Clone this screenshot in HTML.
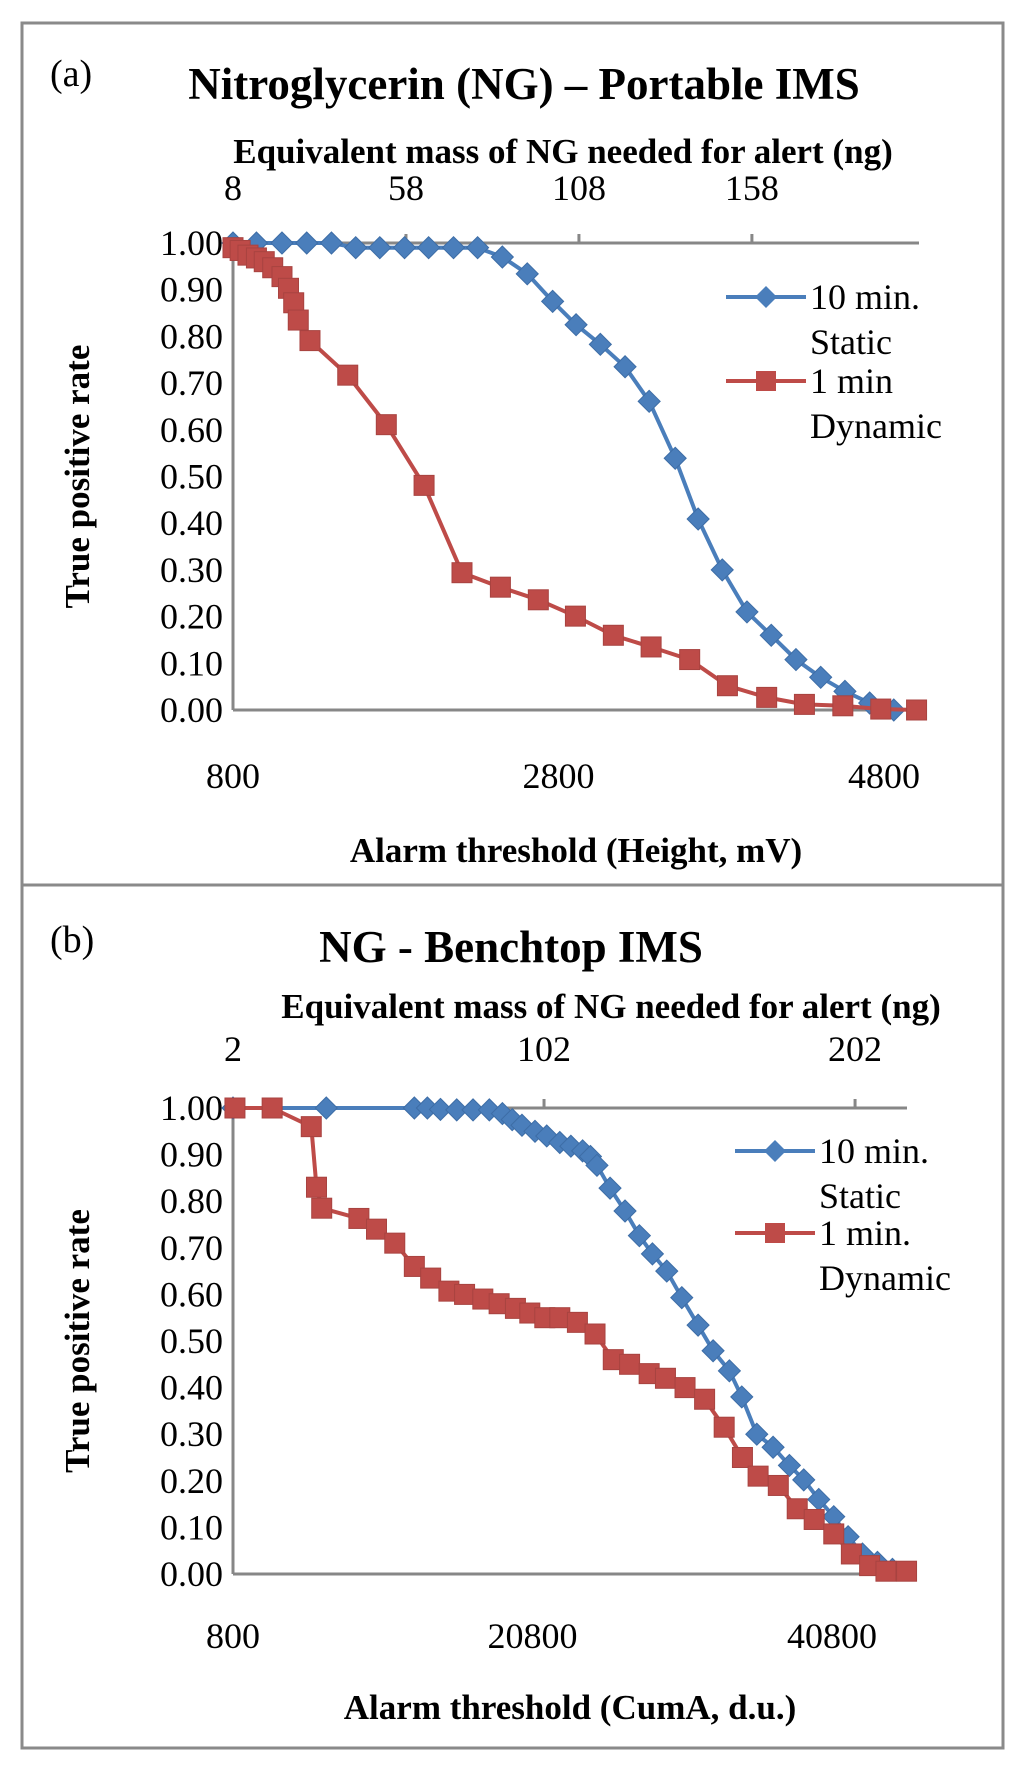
<!DOCTYPE html>
<html><head><meta charset="utf-8"><style>
html,body{margin:0;padding:0;background:#fff;}
svg{display:block;font-family:"Liberation Serif","Times New Roman",serif;}
</style></head><body>
<svg id="fig" width="1024" height="1769" viewBox="0 0 1024 1769" xmlns="http://www.w3.org/2000/svg">
<rect x="22" y="23" width="981" height="1725" fill="#fff" stroke="#8a8a8a" stroke-width="3"/>
<line x1="22" y1="885" x2="1003" y2="885" stroke="#8a8a8a" stroke-width="3"/>
<g id="pa"></g>
<g id="pb"></g>
</svg>
<script>
// Panel (a) data
const aBlueX=[800,944,1101,1253,1405,1554,1702,1854,2002,2155,2303,2455,2608,2764,2908,3057,3209,3357,3517,3658,3806,3958,4107,4259,4411,4560,4712,4860];
const aBlueY=[1.0,1.0,1.0,1.0,1.0,0.99,0.99,0.99,0.99,0.99,0.99,0.97,0.934,0.875,0.825,0.783,0.735,0.661,0.539,0.409,0.30,0.21,0.16,0.108,0.07,0.04,0.015,0.0];
const aRedX=[800,844,892,944,992,1044,1101,1141,1173,1201,1273,1505,1742,1974,2207,2443,2676,2904,3137,3369,3606,3838,4079,4311,4547,4780,5000];
const aRedY=[0.99,0.984,0.974,0.968,0.96,0.947,0.928,0.903,0.872,0.835,0.791,0.717,0.611,0.481,0.294,0.263,0.236,0.201,0.16,0.135,0.108,0.052,0.027,0.012,0.009,0.002,0.0];
const aBottomTicks=[800,2800,4800];
const aTopTicks=[8,58,108,158];
const aYTicks=[0,0.1,0.2,0.3,0.4,0.5,0.6,0.7,0.8,0.9,1.0];
// Panel (b) data
const bBlueX=[800,7029,12910,13781,14652,15741,16830,17919,18790,19444,20097,20968,21752,22624,23364,24148,24671,25106,25978,26980,27938,28809,29767,30769,31858,32860,33949,34777,35779,36868,37957,38915,39917,40919,41877,42835,43837,44839];
const bBlueY=[1,1,1,1,0.997,0.996,0.996,0.996,0.988,0.975,0.963,0.95,0.94,0.926,0.918,0.908,0.896,0.877,0.828,0.779,0.726,0.687,0.65,0.593,0.534,0.479,0.436,0.38,0.30,0.272,0.233,0.202,0.16,0.123,0.08,0.043,0.025,0.01];
const bRedX=[930,3414,6027,6376,6724,9207,10383,11603,12910,14000,15218,16264,17483,18572,19661,20620,21622,22624,23800,24976,26195,27284,28591,29680,30987,32294,33601,34821,35866,37216,38479,39612,40919,42095,43314,44404,45780];
const bRedY=[1,1,0.96,0.83,0.785,0.763,0.74,0.71,0.66,0.635,0.607,0.6,0.59,0.58,0.57,0.56,0.55,0.55,0.54,0.515,0.46,0.45,0.43,0.42,0.40,0.375,0.315,0.25,0.21,0.19,0.14,0.117,0.086,0.043,0.018,0.006,0.006];
const bBottomTicks=[800,20800,40800];
const bTopTicks=[2,102,202];
const bYTicks=[0,0.1,0.2,0.3,0.4,0.5,0.6,0.7,0.8,0.9,1.0];

const NS="http://www.w3.org/2000/svg";
const BLUE="#4a7ebb", RED="#be4b48", AX="#878787";
function mk(parent,tag,attrs,text){const e=document.createElementNS(NS,tag);for(const k in attrs)e.setAttribute(k,attrs[k]);if(text!==undefined)e.textContent=text;parent.appendChild(e);return e;}

function panel(g,cfg){
  const sx=v=>cfg.x0+(v-cfg.xmin)/(cfg.xmax-cfg.xmin)*(cfg.x1-cfg.x0);
  const sxt=v=>cfg.x0+(v-cfg.tmin)/(cfg.tmax-cfg.tmin)*(cfg.x1-cfg.x0);
  const sy=v=>cfg.y0+(v)*(cfg.y1-cfg.y0);
  let t;
  t=mk(g,'text',{x:cfg.lx,y:cfg.ly,'font-size':38},cfg.label);
  
  
  t=mk(g,'text',{x:cfg.tx,y:cfg.ty,'font-size':45,'font-weight':'bold','text-anchor':'middle'},cfg.title);
  
  
  t=mk(g,'text',{x:cfg.ttx,y:cfg.tty,'font-size':35,'font-weight':'bold','text-anchor':'middle'},'Equivalent mass of NG needed for alert (ng)');
  
  
  t=mk(g,'text',{x:cfg.btx,y:cfg.bty,'font-size':35,'font-weight':'bold','text-anchor':'middle'},cfg.xtitle);
  
  
  const ymid=(cfg.y0+cfg.y1)/2;
  t=mk(g,'text',{x:0,y:0,'font-size':35,'font-weight':'bold','text-anchor':'middle',transform:`translate(89,${ymid}) rotate(-90)`},'True positive rate');
  
  
  let l=mk(g,'line',{x1:cfg.x0,y1:cfg.y0,x2:cfg.x0,y2:cfg.y1,stroke:AX,'stroke-width':3});
  
  
  l=mk(g,'line',{x1:cfg.x0,y1:cfg.y0,x2:cfg.x1,y2:cfg.y0,stroke:AX,'stroke-width':3});
  
  
  l=mk(g,'line',{x1:cfg.x0,y1:cfg.y1,x2:cfg.x1,y2:cfg.y1,stroke:AX,'stroke-width':3});
  
  
  cfg.yticks.forEach(v=>{
    const e=mk(g,'text',{x:223,y:sy(v)+12,'font-size':36,'text-anchor':'end'},v.toFixed(2));
    
    
  });
  cfg.bticks.forEach(v=>{
    const e=mk(g,'text',{x:sx(v),y:cfg.bly,'font-size':36,'text-anchor':'middle'},String(v));
    
    
  });
  cfg.tticks.forEach(v=>{
    const e=mk(g,'text',{x:sxt(v),y:cfg.tly,'font-size':36,'text-anchor':'middle'},String(v));
    
    
    const tk=mk(g,'line',{x1:sxt(v),y1:cfg.y1,x2:sxt(v),y2:cfg.y1-9,stroke:AX,'stroke-width':3});
    
    
  });
  function series(xs,ys,color,shape,name){
    const pts=xs.map((v,i)=>sx(v).toFixed(1)+','+sy(ys[i]).toFixed(1)).join(' ');
    const pl=mk(g,'polyline',{points:pts,fill:'none',stroke:color,'stroke-width':4,'stroke-linejoin':'round'});
    
    
    xs.forEach((v,i)=>{
      const cx=sx(v),cy=sy(ys[i]);let m;
      if(shape==='d'){m=mk(g,'polygon',{points:`${cx},${cy-11} ${cx+11},${cy} ${cx},${cy+11} ${cx-11},${cy}`,fill:color,stroke:'#3d6da6','stroke-width':1});}
      else{m=mk(g,'rect',{x:cx-10,y:cy-10,width:20,height:20,fill:color,stroke:'#a84340','stroke-width':1});}
      
      
    });
  }
  series(cfg.bx,cfg.by,BLUE,'d','static-10min');
  series(cfg.rx,cfg.ry,RED,'s','dynamic-1min');
  const lg=mk(g,'g',{});
  
  
  const L=cfg.leg;
  let e=mk(lg,'line',{x1:L.x,y1:L.y1,x2:L.x+80,y2:L.y1,stroke:BLUE,'stroke-width':4});
  
  
  e=mk(lg,'polygon',{points:`${L.x+40},${L.y1-11} ${L.x+51},${L.y1} ${L.x+40},${L.y1+11} ${L.x+29},${L.y1}`,fill:BLUE});
  
  
  e=mk(lg,'line',{x1:L.x,y1:L.y2,x2:L.x+80,y2:L.y2,stroke:RED,'stroke-width':4});
  
  
  e=mk(lg,'rect',{x:L.x+30,y:L.y2-10,width:20,height:20,fill:RED});
  
  
  [['10 min.',L.y1+12],['Static',L.y1+57],[cfg.redLabel,L.y2+12],['Dynamic',L.y2+57]].forEach(a=>{
    const tt=mk(lg,'text',{x:L.x+84,y:a[1],'font-size':36},a[0]);
    
    
  });
}

panel(document.getElementById('pa'),{
  x0:233,x1:919,xmin:800,xmax:5015,tmin:8,tmax:206.3,y0:710,y1:243,
  label:'(a)',lx:50,ly:86,title:'Nitroglycerin (NG) \u2013 Portable IMS',tx:524,ty:99,
  ttx:563,tty:163,tly:200,bly:788,btx:576,bty:862,xtitle:'Alarm threshold (Height, mV)',
  yticks:aYTicks,bticks:aBottomTicks,tticks:aTopTicks,
  bx:aBlueX,by:aBlueY,rx:aRedX,ry:aRedY,leg:{x:726,y1:297,y2:381},redLabel:'1 min'
});
panel(document.getElementById('pb'),{
  x0:233,x1:907,xmin:800,xmax:45810,tmin:2,tmax:218.7,y0:1574,y1:1108,
  label:'(b)',lx:50,ly:952,title:'NG - Benchtop IMS',tx:511,ty:962,
  ttx:611,tty:1018,tly:1061,bly:1648,btx:570,bty:1719,xtitle:'Alarm threshold (CumA, d.u.)',
  yticks:bYTicks,bticks:bBottomTicks,tticks:bTopTicks,
  bx:bBlueX,by:bBlueY,rx:bRedX,ry:bRedY,leg:{x:735,y1:1151,y2:1233},redLabel:'1 min.'
});
</script>
</body></html>
